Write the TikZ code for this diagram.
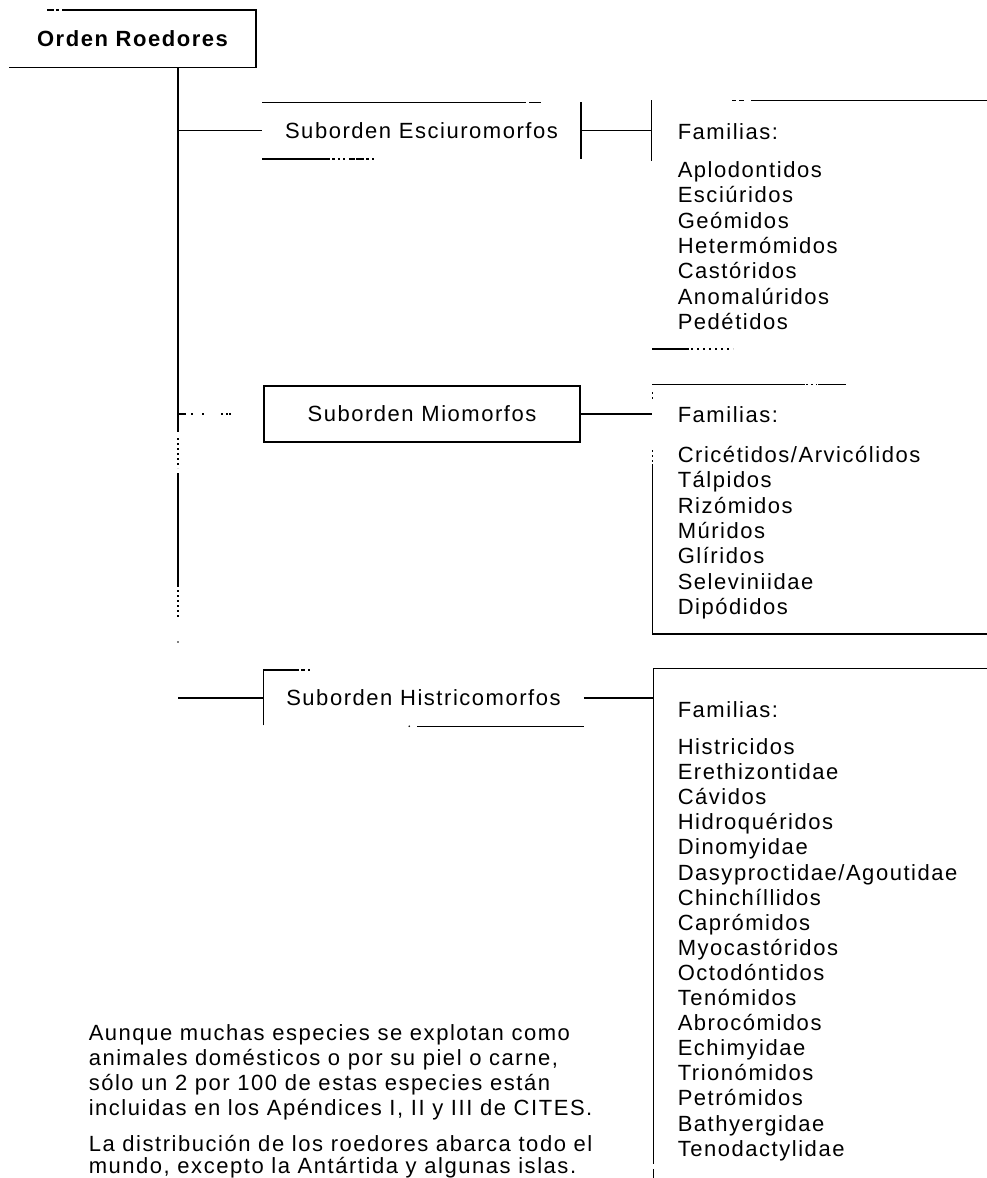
\documentclass[tikz,border=0pt]{standalone}
\usepackage{fontspec}
\setmainfont{Liberation Sans}[LetterSpace=7]
\begin{document}
\begin{tikzpicture}[x=1pt,y=-1pt,line width=1.5pt,
  every node/.style={font=\fontsize{22}{25}\selectfont,inner sep=0pt},
  boxnode/.style={minimum width=#1,minimum height=56pt},
  txt/.style={anchor=base west},
  brk/.style={dash pattern=on 2pt off 3pt}]
\useasboundingbox (0,0) rectangle (986,1178);

% ---- root ----
\node[boxnode=245pt] (root) at (132.5,38.5) {\bfseries Orden Roedores};
\draw ([xshift=53pt]root.north west) -- (root.north east) -- (root.south east) -- (root.south west);
\draw ([xshift=38pt]root.north west) -- ++(7,0);
\draw ([xshift=47pt]root.north west) -- ++(3,0);

% ---- trunk ----
\coordinate (t0) at (root.south west -| 178,0);
\coordinate (bE) at (178,130.5);
\coordinate (bM) at (178,414);
\coordinate (bH) at (178,698);
\draw (t0) -- (178,432);
\draw[brk] (178,438) -- (178,468);
\draw (178,473) -- (178,587);
\draw[brk] (178,590) -- (178,618);
\fill (178,642) circle (0.9pt);

% ---- Suborden Esciuromorfos ----
\node[boxnode=317pt,minimum height=55pt] (sE) at (421.5,130.5) {Suborden Esciuromorfos};
\draw (bE) -- (sE.west);
\draw (sE.north west) -- ++(264,0);
\draw ([xshift=267pt]sE.north west) -- ++(12,0);
\draw (sE.north east) -- (sE.south east);
\draw (sE.south west) -- ++(60,0);
\draw[dash pattern=on 8pt off 2pt on 3pt off 3pt on 2pt off 3pt on 2pt off 4pt on 6pt off 1pt]
  ([xshift=60pt]sE.south west) -- ++(52,0);

% ---- Familias E ----
\node[minimum width=338pt,minimum height=247pt] (fE) at (821,224.5) {};
\draw (sE.east) -- (sE.east -| fE.west);
\draw (fE.north west) -- ++(0,61);
\draw ([xshift=81pt]fE.north west) -- ++(4,0);
\draw ([xshift=88pt]fE.north west) -- ++(5,0);
\draw ([xshift=100pt]fE.north west) -- (fE.north east);
\draw ([xshift=1pt]fE.south west) -- ++(37,0);
\draw[dash pattern=on 2pt off 4pt] ([xshift=40pt]fE.south west) -- ++(42,0);
\node[txt] (fEh) at (677,139.5) {Familias:};
\foreach \t [count=\i] in {Aplodontidos,Esciúridos,Geómidos,Hetermómidos,Castóridos,Anomalúridos,Pedétidos}
  \node[txt] (fE\i) at (677,{177.5+25.3*(\i-1)}) {\t};

% ---- Suborden Miomorfos ----
\node[draw,boxnode=316pt] (sM) at (422,414) {Suborden Miomorfos};
\draw (bM) -- ++(8,0);
\draw[dash pattern=on 2pt off 9pt on 2pt off 17pt on 2pt off 3pt on 2pt off 1pt on 5pt off 20pt]
  ([xshift=13pt]bM) -- ++(40,0);

% ---- Familias M ----
\node[minimum width=337pt,minimum height=248pt] (fM) at (821.5,509) {};
\draw (sM.east) -- (sM.east -| fM.west);
\draw (fM.north west) -- ++(153,0);
\draw[dash pattern=on 2pt off 3pt] ([xshift=154pt]fM.north west) -- ++(11,0);
\draw ([xshift=166pt]fM.north west) -- ++(28,0);
\draw[brk] ([yshift=-8pt]fM.north west) -- ++(0,8);
\draw[brk] ([yshift=-66pt]fM.north west) -- ++(0,12);
\draw ([yshift=-80pt]fM.north west) -- (fM.south west) -- (fM.south east);
\node[txt] (fMh) at (677,422.5) {Familias:};
\foreach \t [count=\i] in {Cricétidos/Arvicólidos,Tálpidos,Rizómidos,Múridos,Glíridos,Seleviniidae,Dipódidos}
  \node[txt] (fM\i) at (677,{462.5+25.3*(\i-1)}) {\t};

% ---- Suborden Histricomorfos ----
\node[boxnode=319pt,minimum height=55pt] (sH) at (423.5,698) {Suborden Histricomorfos};
\draw (bH) -- (sH.west);
\draw ([yshift=1pt]sH.south west) -- (sH.north west) -- ++(32,0);
\draw[dash pattern=on 4pt off 2pt on 4pt off 3pt on 2pt off 3pt] ([xshift=32pt]sH.north west) -- ++(16,0);
\fill ([xshift=146pt]sH.south west) circle (0.8pt);
\draw ([xshift=154pt]sH.south west) -- (sH.south east);

% ---- Familias H ----
\node[minimum width=336pt,minimum height=516pt] (fH) at (822,927) {};
\draw (sH.east) -- (sH.east -| fH.west);
\draw (fH.north east) -- (fH.north west) -- ++(0,496);
\draw ([yshift=-501pt]fH.north west) -- ++(0,10);
\node[txt] (fHh) at (677,717.5) {Familias:};
\foreach \t [count=\i] in {Histricidos,Erethizontidae,Cávidos,Hidroquéridos,Dinomyidae,Dasyproctidae/Agoutidae,Chinchíllidos,Caprómidos,Myocastóridos,Octodóntidos,Tenómidos,Abrocómidos,Echimyidae,Trionómidos,Petrómidos,Bathyergidae,Tenodactylidae}
  \node[txt] (fH\i) at (677,{754.5+25.1*(\i-1)}) {\t};

% ---- notes ----
\node[txt] (n1) at (88,1040) {Aunque muchas especies se explotan como};
\node[txt] (n2) at (88,1065) {animales domésticos o por su piel o carne,};
\node[txt] (n3) at (88,1090) {sólo un 2 por 100 de estas especies están};
\node[txt] (n4) at (88,1115) {incluidas en los Apéndices I, II y III de CITES.};
\node[txt] (n5) at (88,1151) {La distribución de los roedores abarca todo el};
\node[txt] (n6) at (88,1173) {mundo, excepto la Antártida y algunas islas.};
\end{tikzpicture}
\end{document}
